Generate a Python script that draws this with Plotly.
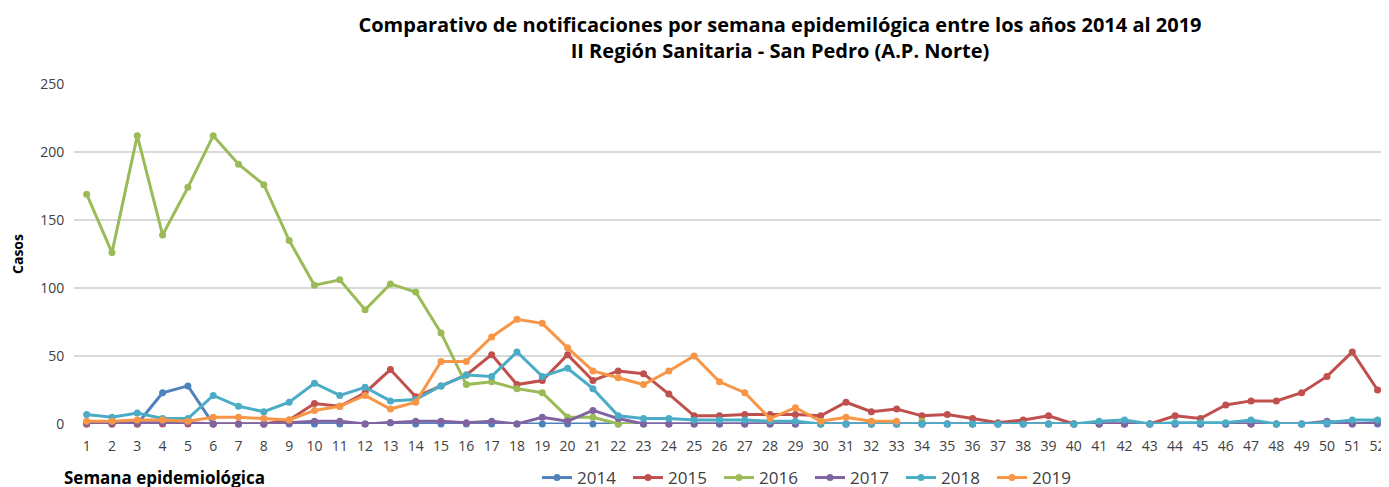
import plotly.graph_objects as go

weeks = list(range(1, 53))

y2014 = [0, 0, 0, 23, 28, 0, 0, 0, 0, 0, 0, 0, 1, 0, 0, 0, 0, 0, 0, 0, 0, 0, 0, 0, 0, 0,
         0, 0, 0, 0, 0, 0, 0, 0, 0, 0, 0, 0, 0, 0, 0, 0, 0, 0, 0, 0, 0, 0, 0, 0, 0, 0]
y2015 = [0, 0, 0, 0, 0, 0, 0, 0, 3, 15, 13, 23, 40, 20, 28, 36, 51, 29, 32, 51, 32, 39, 37, 22, 6, 6,
         7, 7, 7, 6, 16, 9, 11, 6, 7, 4, 1, 3, 6, 0, 0, 0, 0, 6, 4, 14, 17, 17, 23, 35, 53, 25]
y2016 = [169, 126, 212, 139, 174, 212, 191, 176, 135, 102, 106, 84, 103, 97, 67, 29, 31, 26, 23, 5, 5, 0,
         0, None, None, None, None, None, None, None, None, None, None, 2, None, None, None, None, None, None,
         None, None, None, None, None, None, 0, None, None, None, None, None]
y2017 = [1, 1, 1, 1, 1, 0, 0, 0, 1, 2, 2, 0, 1, 2, 2, 1, 2, 0, 5, 2, 10, 4, 0, 0, 0, 0,
         0, 0, 0, 0, 0, 0, 0, 0, 0, 0, 0, 0, 0, 0, 0, 0, 0, 0, 0, 0, 0, 0, 0, 2, 0, 1]
y2018 = [7, 5, 8, 4, 4, 21, 13, 9, 16, 30, 21, 27, 17, 18, 28, 36, 35, 53, 35, 41, 26, 6, 4, 4, 3, 3,
         3, 2, 2, 0, 0, 0, 0, 0, 0, 0, 0, 0, 0, 0, 2, 3, 0, 1, 1, 1, 3, 0, 0, 1, 3, 3]
y2019 = [2, 2, 3, 3, 2, 5, 5, 4, 3, 10, 13, 21, 11, 16, 46, 46, 64, 77, 74, 56, 39, 34, 29, 39, 50, 31,
         23, 4, 12, 2, 5, 2, 2, None, None, None, None, None, None, None, None, None, None, None, None, None,
         None, None, None, None, None, None]

series = [("2014", y2014, "#4F81BD"), ("2015", y2015, "#C0504D"), ("2016", y2016, "#9BBB59"),
          ("2017", y2017, "#8064A2"), ("2018", y2018, "#4BACC6"), ("2019", y2019, "#F79646")]

# page has an ~8px body margin; figure coordinates are image coordinates minus 8
OFF = 8
W, H = 1389, 487
L, T = 74 - OFF, 84 - OFF
B_img = 424
PW = 1315
PH = B_img - 84

fig = go.Figure()
for name, ys, col in series:
    fig.add_trace(go.Scatter(x=weeks, y=ys, name=name, mode="lines+markers",
                             line=dict(color=col, width=3), marker=dict(color=col, size=7),
                             cliponaxis=False))

fig.update_layout(
    width=W, height=H, paper_bgcolor="white", plot_bgcolor="white",
    margin=dict(l=L, r=W - L - PW, t=T, b=H - (B_img - OFF), autoexpand=False),
    font=dict(family="Open Sans, Noto Sans, sans-serif", size=13, color="#404040"),
    title=dict(text="<b>Comparativo de notificaciones por semana epidemilógica entre los años 2014 al 2019<br>II Región Sanitaria - San Pedro (A.P. Norte)</b>",
               x=(780 - OFF) / W, xanchor="center", y=1 - 24 / H, yanchor="top",
               font=dict(size=20, color="#000000")),
    showlegend=True,
    legend=dict(orientation="h", x=(537 - OFF - L) / PW, xanchor="left", y=-54 / PH, yanchor="middle",
                font=dict(size=17, color="#404040"), entrywidth=46, itemwidth=30,
                bgcolor="rgba(0,0,0,0)"),
)
fig.update_xaxes(range=[0.5, 52.45], tickmode="array", tickvals=weeks, ticktext=[str(w) for w in weeks],
                 showgrid=False, zeroline=False, showline=False, ticks="outside", ticklen=9,
                 tickcolor="rgba(0,0,0,0)", automargin=False,
                 tickfont=dict(size=14, color="#404040"))
fig.update_yaxes(range=[0, 250], tickvals=[0, 50, 100, 150, 200, 250], showgrid=True,
                 gridcolor="#D9D9D9", gridwidth=1.5, zeroline=False, showline=False,
                 ticks="outside", ticklen=6, tickcolor="rgba(0,0,0,0)",
                 automargin=False, tickfont=dict(size=14, color="#404040"),
                 title=dict(text="<b>Casos</b>", font=dict(size=14, color="#000000"), standoff=24))
fig.add_annotation(text="<b>Semana epidemiológica</b>", xref="paper", yref="paper",
                   x=(62 - OFF - L) / PW, y=-54 / PH, xanchor="left", yanchor="middle",
                   showarrow=False, font=dict(size=17, color="#000000"))

fig.write_html("out.html")
